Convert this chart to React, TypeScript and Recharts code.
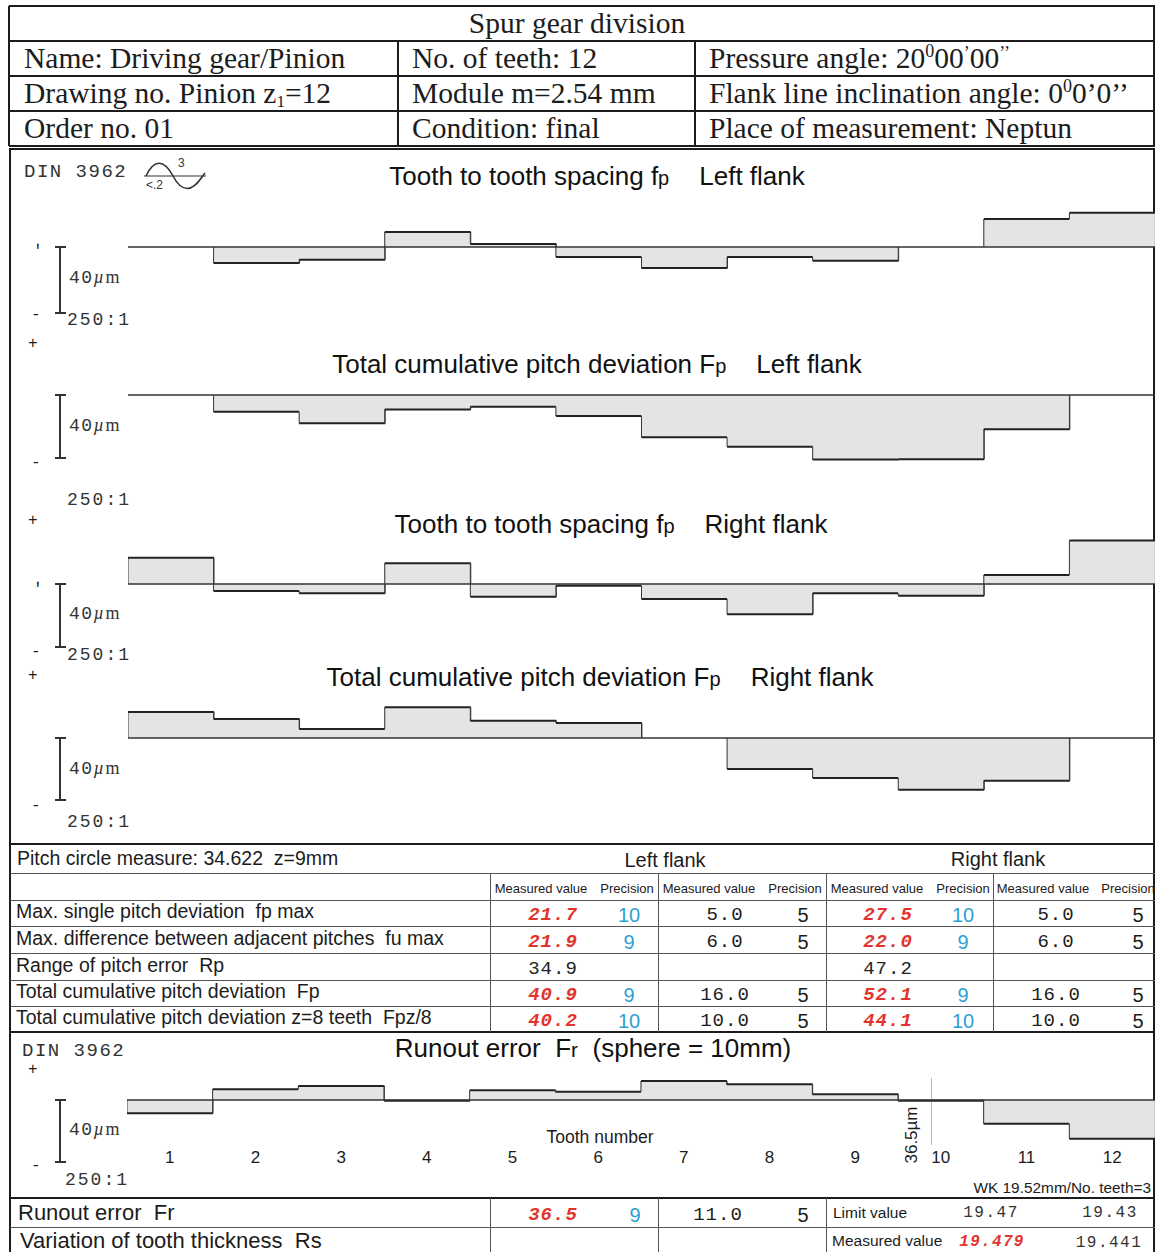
import React from "react";
import { BarChart, Bar, XAxis, YAxis, ReferenceLine } from "recharts";

const TEETH = ["1", "2", "3", "4", "5", "6", "7", "8", "9", "10", "11", "12"];

// deviations per tooth in µm
const FP_LEFT = [0, -10.1, -8.0, 9.5, 1.9, -6.3, -13.3, -6.3, -8.7, 0, 17.7, 21.7];
const FP_CUM_LEFT = [0, -10.6, -17.9, -9.1, -7.4, -13.3, -26.8, -32.7, -40.9, -40.6, -21.7, 0];
const FP_RIGHT = [16.6, -4.4, -5.9, 13.1, -8.0, -1.1, -9.5, -19.2, -5.9, -7.4, 5.7, 27.5];
const FP_CUM_RIGHT = [16.5, 12.0, 5.7, 19.4, 10.9, 9.5, 0, -19.6, -25.3, -32.7, -27.0, 0];
const RUNOUT = [-8.4, 6.8, 8.9, -0.4, 6.1, 5.3, 12.0, 9.9, 3.6, -0.4, -15.0, -24.5];

const ROW_LABELS = [
  "Max. single pitch deviation  fp max",
  "Max. difference between adjacent pitches  fu max",
  "Range of pitch error  Rp",
  "Total cumulative pitch deviation  Fp",
  "Total cumulative pitch deviation z=8 teeth  Fpz/8",
];
const LEFT_MEASURED = [21.7, 21.9, 34.9, 40.9, 40.2];
const LEFT_PRECISION = [10, 9, null, 9, 10];
const RIGHT_MEASURED = [27.5, 22.0, 47.2, 52.1, 44.1];
const RIGHT_PRECISION = [10, 9, null, 9, 10];
const TOL_VALUE = [5.0, 6.0, null, 16.0, 10.0];
const TOL_PRECISION = [5, 5, null, 5, 5];

const RUNOUT_FR = [36.5, 9, 11.0, 5];
const LIMIT_VALUES = ["19.47", "19.43"];
const THICKNESS_MEASURED = ["19.479", "19.441"];

const PX_PER_UM = 1.58; // 40µm ≈ 63px at 250:1

const SERIF = "'Liberation Serif', 'Times New Roman', serif";
const SANS = "'Liberation Sans', Arial, sans-serif";
const MONO = "'Liberation Mono', 'Courier New', monospace";
const RED = "#e2342c";
const BLUE = "#2f9fd3";
const FILL = "#e6e3e3";
const INK = "#1c1c1c";

type TxtProps = {
  x: number;
  y: number;
  size?: number;
  font?: string;
  color?: string;
  anchor?: "start" | "middle" | "end";
  bold?: boolean;
  italic?: boolean;
  spacing?: number;
  children: React.ReactNode;
};

function Txt({ x, y, size = 18, font = SANS, color = INK, anchor = "start", bold, italic, spacing = 0, children }: TxtProps) {
  const tx = anchor === "middle" ? "-50%" : anchor === "end" ? "-100%" : "0";
  return (
    <div
      style={{
        position: "absolute",
        left: x,
        top: y,
        transform: `translate(${tx}, -50%)`,
        fontSize: size,
        fontFamily: font,
        color,
        fontWeight: bold ? 700 : 400,
        fontStyle: italic ? "italic" : "normal",
        letterSpacing: spacing,
        whiteSpace: "pre",
        lineHeight: 1,
      }}
    >
      {children}
    </div>
  );
}

function HL({ x1, x2, y, w = 1.5, c = INK }: { x1: number; x2: number; y: number; w?: number; c?: string }) {
  return <div style={{ position: "absolute", left: x1, top: y - w / 2, width: x2 - x1, height: w, background: c }} />;
}

function VL({ x, y1, y2, w = 1.5, c = INK }: { x: number; y1: number; y2: number; w?: number; c?: string }) {
  return <div style={{ position: "absolute", left: x - w / 2, top: y1, width: w, height: y2 - y1, background: c }} />;
}

function StepChart({
  values,
  left,
  top,
  width,
  plotHeight,
  baseline,
  axisHeight = 0,
}: {
  values: number[];
  left: number;
  top: number;
  width: number;
  plotHeight: number;
  baseline: number;
  axisHeight?: number;
}) {
  const data = TEETH.map((t, i) => ({
    tooth: t,
    v: values[i],
    prev: i > 0 ? values[i - 1] : 0,
    next: i < values.length - 1 ? values[i + 1] : 0,
  }));
  const domain = [-(top + plotHeight - baseline) / PX_PER_UM, (baseline - top) / PX_PER_UM];
  const yOf = (v: number) => baseline - top - v * PX_PER_UM;

  // filled step, outlined like a step line between neighbouring teeth
  const shape = (props: any) => {
    const { x, width: w, payload } = props;
    if (!payload) return <g />;
    const yv = yOf(payload.v);
    const y0 = yOf(0);
    return (
      <g>
        {payload.v !== 0 && (
          <rect x={x} y={Math.min(yv, y0)} width={w + 0.4} height={Math.abs(yv - y0)} fill={FILL} />
        )}
        {payload.prev !== payload.v && (
          <line x1={x} x2={x} y1={yOf(payload.prev)} y2={yv} stroke="#3a3a3a" strokeWidth={1} />
        )}
        {payload.next !== payload.v && (
          <line x1={x + w} x2={x + w} y1={yv} y2={yOf(payload.next)} stroke="#3a3a3a" strokeWidth={1} />
        )}
        {payload.v !== 0 && <line x1={x} x2={x + w} y1={yv} y2={yv} stroke="#222" strokeWidth={2} />}
      </g>
    );
  };

  return (
    <div style={{ position: "absolute", left, top }}>
      <BarChart
        width={width}
        height={plotHeight + axisHeight}
        data={data}
        margin={{ top: 0, right: 0, bottom: 0, left: 0 }}
        barCategoryGap={0}
      >
        <XAxis
          dataKey="tooth"
          hide={!axisHeight}
          height={axisHeight || 0}
          axisLine={false}
          tickLine={false}
          interval={0}
          tick={{ fontSize: 17, fill: INK, fontFamily: SANS, dy: 2 }}
        />
        <YAxis hide type="number" domain={domain} allowDataOverflow />
        <ReferenceLine y={0} stroke="#333" strokeWidth={1.5} />
        <Bar dataKey="v" isAnimationActive={false} shape={shape} />
      </BarChart>
    </div>
  );
}

function ScaleBar({ top, bottom }: { top: number; bottom: number }) {
  return (
    <>
      <VL x={60} y1={top} y2={bottom} w={1.5} c="#333" />
      <HL x1={55} x2={66} y={top} w={1.5} c="#333" />
      <HL x1={55} x2={66} y={bottom} w={1.5} c="#333" />
    </>
  );
}

function Micro({ x, y }: { x: number; y: number }) {
  return (
    <Txt x={x} y={y} size={18} font={MONO} color="#333" spacing={1.5}>
      40
      <span style={{ fontFamily: SERIF, fontStyle: "italic" }}>µ</span>
      <span style={{ fontFamily: SERIF }}>m</span>
    </Txt>
  );
}

function Scale({ x, y }: { x: number; y: number }) {
  return (
    <Txt x={x} y={y} size={18} font={MONO} color="#333" spacing={2}>
      250:1
    </Txt>
  );
}

function Title({ x, y, main, sub, side }: { x: number; y: number; main: string; sub: string; side: string }) {
  return (
    <Txt x={x} y={y} size={26} anchor="middle" color="#111">
      {main}
      <span style={{ fontSize: 20 }}>{sub}</span>
      <span style={{ display: "inline-block", width: 30 }} />
      {side}
    </Txt>
  );
}

const supStyle: React.CSSProperties = { fontSize: 18, verticalAlign: "0.62em", lineHeight: 0 };
const tickStyle: React.CSSProperties = { fontSize: 18, verticalAlign: "0.5em", lineHeight: 0 };
const subStyle: React.CSSProperties = { fontSize: 17, verticalAlign: "-0.2em", lineHeight: 0 };

export default function App() {
  const fmt = (v: number | null) => (v === null ? "" : v.toFixed(1));
  const rowY = [913, 940, 967, 993, 1019];
  const H = 29.5;
  return (
    <div style={{ position: "relative", width: 1155, height: 1252, background: "#fff", overflow: "hidden" }}>
      <style>{"body{margin:0}"}</style>

      {/* header table */}
      <HL x1={9} x2={1155} y={6} w={2} />
      <HL x1={9} x2={1155} y={41} />
      <HL x1={9} x2={1155} y={76} />
      <HL x1={9} x2={1155} y={111} />
      <HL x1={9} x2={1155} y={146} w={2} />
      <VL x={9} y1={6} y2={146} w={2} />
      <VL x={1154} y1={6} y2={146} w={2} />
      <VL x={398} y1={41} y2={146} />
      <VL x={695} y1={41} y2={146} />
      <Txt x={577} y={24} size={H} font={SERIF} anchor="middle">Spur gear division</Txt>
      <Txt x={24} y={59} size={H} font={SERIF}>Name: Driving gear/Pinion</Txt>
      <Txt x={412} y={59} size={H} font={SERIF}>No. of teeth: 12</Txt>
      <Txt x={709} y={59} size={H} font={SERIF}>
        Pressure angle: 20<span style={supStyle}>0</span>00<span style={tickStyle}>’</span>00
        <span style={tickStyle}>’’</span>
      </Txt>
      <Txt x={24} y={94} size={H} font={SERIF}>
        Drawing no. Pinion z<span style={subStyle}>1</span>=12
      </Txt>
      <Txt x={412} y={94} size={H} font={SERIF}>Module m=2.54 mm</Txt>
      <Txt x={709} y={94} size={H} font={SERIF}>
        Flank line inclination angle: 0<span style={supStyle}>0</span>0’0’’
      </Txt>
      <Txt x={24} y={129} size={H} font={SERIF}>Order no. 01</Txt>
      <Txt x={412} y={129} size={H} font={SERIF}>Condition: final</Txt>
      <Txt x={709} y={129} size={H} font={SERIF}>Place of measurement: Neptun</Txt>

      {/* outer frame of the measurement sheet */}
      <HL x1={10} x2={1155} y={149} w={2} />
      <VL x={10} y1={148} y2={1252} w={2} />
      <VL x={1154} y1={148} y2={1252} w={1.5} />

      {/* pitch charts */}
      <Txt x={24} y={172} size={19} font={MONO} color="#333" spacing={1.5}>DIN 3962</Txt>
      <svg style={{ position: "absolute", left: 142, top: 156 }} width={66} height={36}>
        <line x1={2} y1={20} x2={64} y2={20} stroke="#333" strokeWidth={1.2} />
        <path d="M4,20 C12,3 22,3 31,20 S50,36 60,21 L63,17" fill="none" stroke="#333" strokeWidth={1.6} />
        <text x={36} y={11} fontSize={12} fontFamily={SANS} fill="#333">3</text>
        <text x={4} y={33} fontSize={12} fontFamily={SANS} fill="#333">&lt;.2</text>
      </svg>

      <Title x={597} y={176} main="Tooth to tooth spacing f" sub="p" side="Left flank" />
      <StepChart values={FP_LEFT} left={128} top={205} width={1027} plotHeight={100} baseline={247} />
      <Txt x={33} y={252} size={16} font={MONO}>ʹ</Txt>
      <ScaleBar top={247} bottom={313} />
      <Micro x={69} y={277} />
      <Txt x={31} y={315} size={16} font={MONO}>-</Txt>
      <Scale x={67} y={320} />
      <Txt x={28} y={344} size={16} font={MONO}>+</Txt>

      <Title x={597} y={364} main="Total cumulative pitch deviation F" sub="p" side="Left flank" />
      <StepChart values={FP_CUM_LEFT} left={128} top={385} width={1027} plotHeight={85} baseline={395} />
      <ScaleBar top={395} bottom={458} />
      <Micro x={69} y={425} />
      <Txt x={31} y={463} size={16} font={MONO}>-</Txt>
      <Scale x={67} y={500} />
      <Txt x={28} y={521} size={16} font={MONO}>+</Txt>

      <Title x={611} y={524} main="Tooth to tooth spacing f" sub="p" side="Right flank" />
      <StepChart values={FP_RIGHT} left={128} top={535} width={1027} plotHeight={90} baseline={584} />
      <Txt x={33} y={590} size={16} font={MONO}>ʹ</Txt>
      <ScaleBar top={584} bottom={647} />
      <Micro x={69} y={613} />
      <Txt x={31} y={652} size={16} font={MONO}>-</Txt>
      <Scale x={67} y={655} />
      <Txt x={28} y={676} size={16} font={MONO}>+</Txt>

      <Title x={600} y={677} main="Total cumulative pitch deviation F" sub="p" side="Right flank" />
      <StepChart values={FP_CUM_RIGHT} left={128} top={700} width={1027} plotHeight={100} baseline={738} />
      <ScaleBar top={738} bottom={800} />
      <Micro x={69} y={768} />
      <Txt x={31} y={806} size={16} font={MONO}>-</Txt>
      <Scale x={67} y={822} />

      {/* results table */}
      <HL x1={10} x2={1155} y={844} w={2} />
      <HL x1={10} x2={1155} y={873} w={1} c="#555" />
      <HL x1={10} x2={1155} y={900} w={1} c="#555" />
      <HL x1={10} x2={1155} y={926} w={1} c="#555" />
      <HL x1={10} x2={1155} y={953} w={1} c="#555" />
      <HL x1={10} x2={1155} y={980} w={1} c="#555" />
      <HL x1={10} x2={1155} y={1006} w={1} c="#555" />
      <HL x1={10} x2={1155} y={1032} w={2} />
      {[490, 658, 826, 993].map((x) => (
        <VL key={x} x={x} y1={873} y2={1032} w={1} c="#555" />
      ))}
      <Txt x={17} y={859} size={19.5}>Pitch circle measure: 34.622  z=9mm</Txt>
      <Txt x={665} y={860} size={20} anchor="middle">Left flank</Txt>
      <Txt x={998} y={859} size={20} anchor="middle">Right flank</Txt>
      {[541, 709, 877, 1043].map((x) => (
        <Txt key={"m" + x} x={x} y={888} size={13} anchor="middle">Measured value</Txt>
      ))}
      {[627, 795, 963, 1128].map((x) => (
        <Txt key={"p" + x} x={x} y={888} size={13} anchor="middle">Precision</Txt>
      ))}
      {ROW_LABELS.map((label, i) => (
        <React.Fragment key={label}>
          <Txt x={16} y={rowY[i] - 1} size={19.5}>{label}</Txt>
          <Txt
            x={553}
            y={rowY[i] + 2}
            size={19}
            font={MONO}
            anchor="middle"
            spacing={1}
            color={LEFT_PRECISION[i] === null ? "#222" : RED}
            bold={LEFT_PRECISION[i] !== null}
            italic={LEFT_PRECISION[i] !== null}
          >
            {fmt(LEFT_MEASURED[i])}
          </Txt>
          <Txt x={629} y={rowY[i] + 2} size={20} anchor="middle" color={BLUE}>
            {LEFT_PRECISION[i] ?? ""}
          </Txt>
          <Txt x={725} y={rowY[i] + 2} size={19} font={MONO} anchor="middle" spacing={1}>{fmt(TOL_VALUE[i])}</Txt>
          <Txt x={803} y={rowY[i] + 2} size={20} anchor="middle">{TOL_PRECISION[i] ?? ""}</Txt>
          <Txt
            x={888}
            y={rowY[i] + 2}
            size={19}
            font={MONO}
            anchor="middle"
            spacing={1}
            color={RIGHT_PRECISION[i] === null ? "#222" : RED}
            bold={RIGHT_PRECISION[i] !== null}
            italic={RIGHT_PRECISION[i] !== null}
          >
            {fmt(RIGHT_MEASURED[i])}
          </Txt>
          <Txt x={963} y={rowY[i] + 2} size={20} anchor="middle" color={BLUE}>
            {RIGHT_PRECISION[i] ?? ""}
          </Txt>
          <Txt x={1056} y={rowY[i] + 2} size={19} font={MONO} anchor="middle" spacing={1}>{fmt(TOL_VALUE[i])}</Txt>
          <Txt x={1138} y={rowY[i] + 2} size={20} anchor="middle">{TOL_PRECISION[i] ?? ""}</Txt>
        </React.Fragment>
      ))}

      {/* runout chart */}
      <Txt x={22} y={1051} size={19} font={MONO} color="#333" spacing={1.5}>DIN 3962</Txt>
      <Txt x={593} y={1048} size={26} anchor="middle" color="#111">
        Runout error  F<span style={{ fontSize: 21 }}>r</span>  (sphere = 10mm)
      </Txt>
      <Txt x={28} y={1070} size={16} font={MONO}>+</Txt>
      <VL x={931} y1={1078} y2={1145} w={1} c="#bbb" />
      <StepChart values={RUNOUT} left={127} top={1075} width={1028} plotHeight={66} baseline={1100} axisHeight={30} />
      <ScaleBar top={1100} bottom={1162} />
      <Micro x={69} y={1129} />
      <Txt x={31} y={1166} size={16} font={MONO}>-</Txt>
      <Scale x={65} y={1180} />
      <Txt x={600} y={1138} size={17.5} anchor="middle">Tooth number</Txt>
      <div
        style={{
          position: "absolute",
          left: 911,
          top: 1135,
          transform: "translate(-50%, -50%) rotate(-90deg)",
          fontFamily: SANS,
          fontSize: 17,
          color: INK,
          whiteSpace: "nowrap",
          lineHeight: 1,
        }}
      >
        36.5µm
      </div>
      <Txt x={1151} y={1188} size={15.4} anchor="end">WK 19.52mm/No. teeth=3</Txt>

      {/* runout table */}
      <HL x1={10} x2={1155} y={1198} w={2} />
      <HL x1={10} x2={1155} y={1227} w={1} c="#555" />
      {[490, 658, 826].map((x) => (
        <VL key={"b" + x} x={x} y1={1198} y2={1252} w={1} c="#555" />
      ))}
      <Txt x={18} y={1213} size={22}>Runout error  Fr</Txt>
      <Txt x={553} y={1215} size={19} font={MONO} anchor="middle" color={RED} bold italic spacing={1}>
        {RUNOUT_FR[0].toFixed(1)}
      </Txt>
      <Txt x={635} y={1215} size={20} anchor="middle" color={BLUE}>{RUNOUT_FR[1]}</Txt>
      <Txt x={718} y={1215} size={19} font={MONO} anchor="middle" spacing={1}>{RUNOUT_FR[2].toFixed(1)}</Txt>
      <Txt x={803} y={1215} size={20} anchor="middle">{RUNOUT_FR[3]}</Txt>
      <Txt x={833} y={1213} size={15.5}>Limit value</Txt>
      <Txt x={991} y={1213} size={16} font={MONO} anchor="middle" color="#333" spacing={1.5}>{LIMIT_VALUES[0]}</Txt>
      <Txt x={1110} y={1213} size={16} font={MONO} anchor="middle" color="#333" spacing={1.5}>{LIMIT_VALUES[1]}</Txt>
      <Txt x={20} y={1241} size={22}>Variation of tooth thickness  Rs</Txt>
      <Txt x={832} y={1241} size={15.5}>Measured value</Txt>
      <Txt x={992} y={1242} size={16} font={MONO} anchor="middle" color={RED} bold italic spacing={1.3}>
        {THICKNESS_MEASURED[0]}
      </Txt>
      <Txt x={1109} y={1243} size={16} font={MONO} anchor="middle" color="#333" spacing={1.5}>{THICKNESS_MEASURED[1]}</Txt>
    </div>
  );
}
